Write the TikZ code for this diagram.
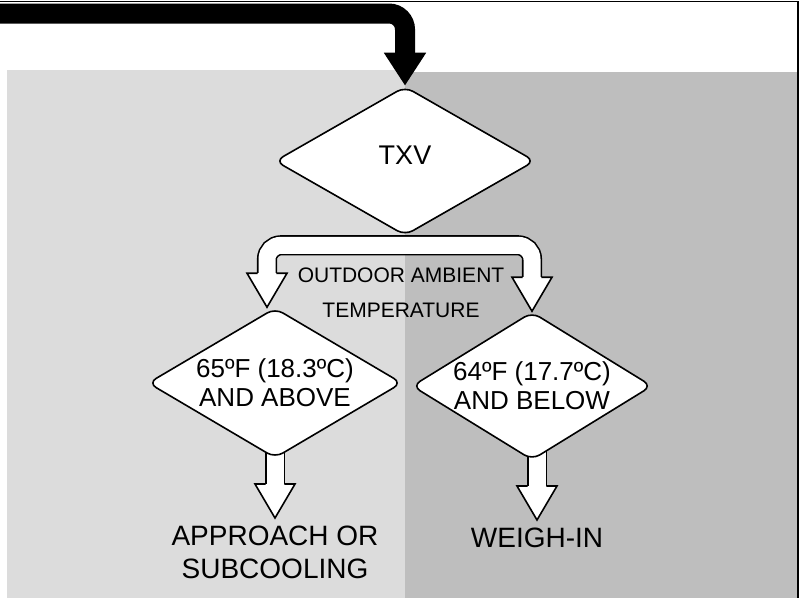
\documentclass[tikz,border=0pt]{standalone}
\usepackage{fontspec}
\setmainfont{Liberation Sans}
\usetikzlibrary{arrows.meta,positioning,shapes.geometric,calc,backgrounds}
\definecolor{PanelL}{HTML}{DCDCDC}
\definecolor{PanelD}{HTML}{BEBEBE}
\pgfdeclarelayer{back}
\pgfdeclarelayer{mid}
\pgfsetlayers{back,mid,main}
% open white arrow head, tip at #1
\newcommand{\fathead}[1]{%
  \fill[white] let \p1=(#1) in (\x1-20pt,\y1+34pt) -- (\x1,\y1) -- (\x1+20pt,\y1+34pt) -- cycle;
  \draw[line width=1.6pt] let \p1=(#1) in (\x1-9.3pt,\y1+34pt) -- (\x1-20pt,\y1+34pt) -- (\x1,\y1) -- (\x1+20pt,\y1+34pt) -- (\x1+9.3pt,\y1+34pt);}

\begin{document}
\begin{tikzpicture}[
  x=1pt, y=-1pt,
  dec/.style={draw, line width=1.6pt, fill=white, diamond, rounded corners=9pt, inner sep=0pt},
  dtext/.style={align=center, font=\fontsize{26}{29}\selectfont},
  result/.style={align=center, anchor=north, inner ysep=8pt, font=\fontsize{28}{33}\selectfont},
  shaft/.style={line width=1.6pt, double=white, double distance=17pt},
  bigarr/.style={line width=20pt, rounded corners=16pt, -{Triangle[width=40pt, length=33pt]}}
]
\useasboundingbox (0,0) rectangle (801,598);
% panels
\begin{pgfonlayer}{back}
\fill[PanelL] (7,70) rectangle (405,598);
\fill[PanelD] (405,71.5) rectangle (797,598);
\end{pgfonlayer}
\draw[line width=1.3pt] (0,1.4) -- (798,1.4) -- (798,598);

% decisions
\node[dec, minimum width=260pt, minimum height=149pt] (txv) at (405,161) {};
\node[font=\fontsize{27}{30}\selectfont] (txvtxt) at ([yshift=6pt]txv.center) {TXV};
\node[dec, minimum width=254pt, minimum height=150pt] (ldec) at (275,383) {};
\node[dtext] (ltxt) at (ldec) {65ºF (18.3ºC)\\AND ABOVE};
\node[dec, minimum width=240pt, minimum height=148pt] (rdec) at (532,386) {};
\node[dtext] (rtxt) at (rdec) {64ºF (17.7ºC)\\AND BELOW};
\node[align=center, font=\fontsize{21}{35}\selectfont] (amb) at (401,293) {OUTDOOR AMBIENT\\TEMPERATURE};
\node[result] (lres) at (275,518) {APPROACH OR\\SUBCOOLING};
\node[result] (rres) at (537,520) {WEIGH-IN};

% arrows
\coordinate (entry) at (0,13.5);
\draw[bigarr] (entry) -| (txv.north);
\begin{pgfonlayer}{mid}
\draw[shaft, rounded corners=14pt] ([xshift=-8pt, yshift=30pt]ldec.north) |- ([yshift=-9pt]txv.south) -| ([yshift=30pt]rdec.north);
\fathead{[xshift=-8pt]ldec.north}
\fathead{rdec.north}
\draw[shaft] ([yshift=10pt]ldec.south) -- ([yshift=30pt]lres.north);
\fathead{lres.north}
\draw[shaft] ([xshift=5pt, yshift=10pt]rdec.south) -- ([yshift=30pt]rres.north);
\fathead{rres.north}
\end{pgfonlayer}
\end{tikzpicture}
\end{document}
